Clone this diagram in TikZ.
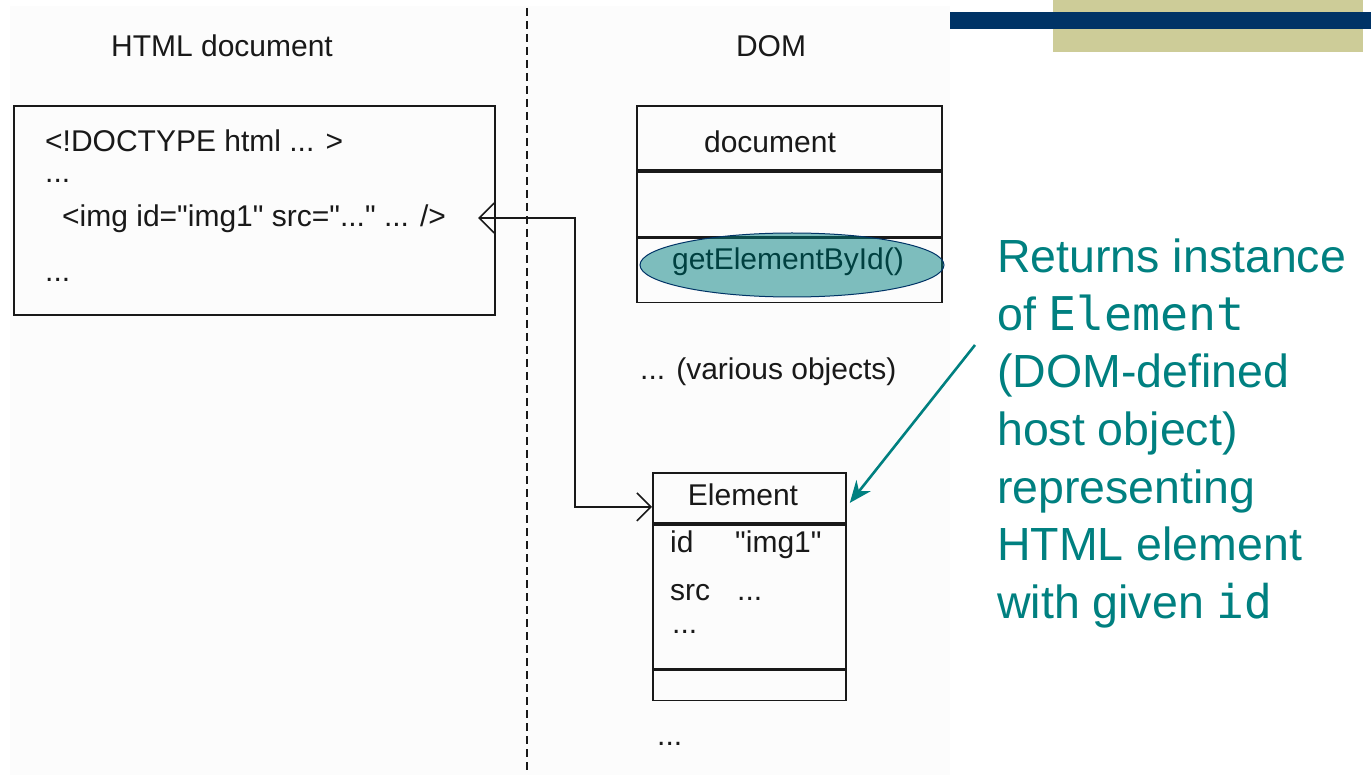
\documentclass[tikz,border=0pt]{standalone}
\usepackage{fontspec}
\setmainfont{Liberation Sans}[Ligatures=TeXOff]
\setmonofont{DejaVu Sans Mono}
\usepackage{tikz}
\usetikzlibrary{arrows.meta, shapes.geometric, positioning}
\definecolor{NavyBar}{RGB}{0, 51, 102}
\definecolor{KhakiBar}{RGB}{205, 204, 152}
\definecolor{NoteTeal}{RGB}{0, 128, 128}
\definecolor{PanelGrey}{RGB}{252, 252, 252}
\definecolor{InkGrey}{RGB}{25, 25, 25}

\begin{document}
\begin{tikzpicture}[x=1pt, y=-1pt,
    diagtext/.style={font=\fontsize{30}{36}\selectfont, text=InkGrey, inner sep=0pt},
    umlrow/.style={draw=InkGrey, line width=1.8pt, anchor=north west, inner sep=0pt},
    note/.style={font=\fontsize{46.5}{56}\selectfont, text=NoteTeal, anchor=base west, inner sep=0pt},
    link/.style={draw=InkGrey, line width=1.6pt, {Straight Barb[length=15pt, width=30pt]}-{Straight Barb[length=14pt, width=28pt]}}]
    \useasboundingbox (0,0) rectangle (1371,775);

    % Fondo y barras
    \fill[PanelGrey] (10,6) rectangle (950,775);
    \fill[KhakiBar] (1053,0) rectangle (1363,52);
    \fill[NavyBar] (950,12) rectangle (1371,29);

    % Separador
    \draw[InkGrey, line width=1.6pt, dash pattern=on 8pt off 5pt] (527,8) -- (527,775);

    % Titulos
    \node[diagtext, anchor=base] (htmltitle) at (222,57) {HTML document};
    \node[diagtext, anchor=base] (domtitle) at (771,57) {DOM};

    % Documento HTML
    \node[umlrow, minimum width=481pt, minimum height=209pt] (htmlbox) at (13,105) {};
    \node[diagtext, anchor=base west] (doctype) at (45,152) {<!DOCTYPE html ... >};
    \node[diagtext, anchor=base west] (htmldots) at (45,183) {...};
    \node[diagtext, anchor=base west] (imgline) at (62,227) {<img id="img1" src="..." ... />};
    \node[diagtext, anchor=base west] (taildots) at (45,282) {...};

    % Objeto document
    \node[umlrow, minimum width=305pt, minimum height=64pt] (docname) at (636,105) {};
    \node[umlrow, minimum width=305pt, minimum height=65pt] (docattrs) at (docname.south west) {};
    \node[umlrow, minimum width=305pt, minimum height=64pt] (docops) at (docattrs.south west) {};
    \node[diagtext, anchor=base] (doclabel) at (770,153) {document};
    \node[diagtext, anchor=base, text=black] (getbyid) at (788,270) {getElementById()};
    \node[ellipse, fill=NoteTeal, fill opacity=0.5, draw=NavyBar, line width=1pt,
          minimum width=304pt, minimum height=64pt] (oval) at (792,265) {};

    \node[diagtext, anchor=base west] (various) at (640,380) {... (various objects)};

    % Objeto Element
    \node[umlrow, minimum width=193pt, minimum height=50pt] (elemname) at (652,472) {};
    \node[umlrow, minimum width=193pt, minimum height=144pt] (elemattrs) at (elemname.south west) {};
    \node[umlrow, minimum width=193pt, minimum height=30pt] (elemops) at (elemattrs.south west) {};
    \node[diagtext, anchor=base] (elemlabel) at (743,505) {Element};
    \node[diagtext, anchor=base west] (idkey) at (670,552) {id};
    \node[diagtext, anchor=base west] (idval) at (735,552) {"img1"};
    \node[diagtext, anchor=base west] (srckey) at (670,600) {src};
    \node[diagtext, anchor=base west] (srcval) at (737,600) {...};
    \node[diagtext, anchor=base west] (moreattrs) at (672,633) {...};
    \node[diagtext, anchor=base west] (moreobjs) at (657,745) {...};

    % Enlace img <-> Element
    \coordinate (imgtip) at (478,218);
    \draw[link] (imgtip) -- ++(97,0) |- ([yshift=-9pt]elemname.west);

    % Nota
    \foreach \line [count=\k from 0] in {{Returns instance},{of \texttt{Element}},{(DOM-defined},{host object)},{representing},{HTML element},{with given \texttt{id}}}
        \node[note] (note\k) at (997,273+57.5*\k) {\line};
    \coordinate (notefoot) at (975,345);
    \draw[NoteTeal, line width=2.6pt, -{Stealth[length=22pt, width=18pt]}] (notefoot) -- ([xshift=3pt, yshift=-5pt]elemname.east);
\end{tikzpicture}
\end{document}
